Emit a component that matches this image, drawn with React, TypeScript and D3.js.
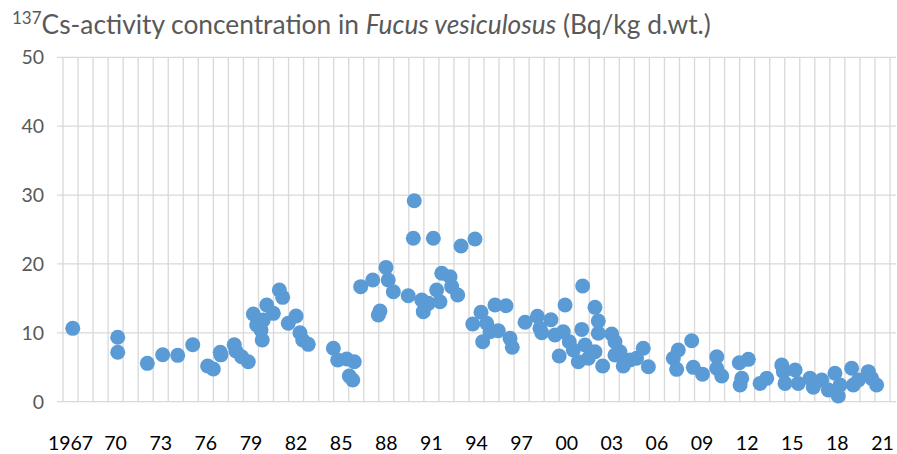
import * as d3 from "d3";

// y axis
const yTicks = [0, 10, 20, 30, 40, 50];

// x axis: one band per year, labels every third year
const labelYears = [1967, 1970, 1973, 1976, 1979, 1982, 1985, 1988, 1991, 1994, 1997, 2000, 2003, 2006, 2009, 2012, 2015, 2018, 2021];
const labelText = ["1967", "70", "73", "76", "79", "82", "85", "88", "91", "94", "97", "00", "03", "06", "09", "12", "15", "18", "21"];

// sampling time (decimal year) and 137Cs activity (Bq/kg d.wt.)
const sampleTime = [
  1967.65, 1970.64, 1970.64, 1972.61, 1973.63, 1974.63, 1975.63, 1976.62, 1977.0, 1977.46,
  1977.5, 1978.39, 1978.5, 1978.88, 1979.32, 1979.66, 1979.88, 1980.17, 1980.25, 1980.32,
  1980.55, 1980.99, 1981.39, 1981.61, 1981.98, 1982.5, 1982.76, 1982.94, 1983.31, 1984.98,
  1985.27, 1985.87, 1986.37, 1986.04, 1986.27, 1986.8, 1987.6, 1987.97, 1988.08, 1988.48,
  1988.63, 1988.97, 1989.96, 1990.36, 1990.3, 1990.86, 1990.96, 1991.3, 1991.63, 1991.85,
  1992.07, 1992.19, 1992.74, 1992.85, 1993.25, 1993.47, 1994.4, 1994.25, 1994.8, 1995.18,
  1994.91, 1995.73, 1995.95, 1995.4, 1996.46, 1996.73, 1996.88, 1997.73, 1998.55, 1998.72,
  1998.84, 1999.45, 1999.72, 2000.0, 2000.39, 2000.27, 2000.67, 2000.94, 2001.27, 2001.5,
  2001.56, 2001.72, 2001.94, 2002.38, 2002.38, 2002.6, 2002.6, 2002.89, 2003.49, 2003.71,
  2003.71, 2004.04, 2004.26, 2004.71, 2005.15, 2005.59, 2005.93, 2007.59, 2007.92, 2007.81,
  2008.81, 2008.92, 2009.53, 2010.48, 2010.48, 2010.81, 2011.98, 2012.58, 2012.03, 2012.14,
  2013.36, 2013.8, 2014.8, 2014.91, 2015.02, 2015.69, 2015.9, 2016.68, 2016.9, 2017.46,
  2017.9, 2018.34, 2018.56, 2018.68, 2019.45, 2019.56, 2019.9, 2020.56, 2020.78, 2021.11,
];
const activity = [
  10.65, 9.35, 7.17, 5.57, 6.82, 6.73, 8.27, 5.18, 4.75, 7.17,
  6.8, 8.27, 7.36, 6.53, 5.81, 12.73, 11.13, 10.4, 8.96, 11.86,
  14.04, 12.83, 16.21, 15.15, 11.38, 12.44, 10.02, 8.96, 8.33, 7.75,
  6.05, 6.2, 5.8, 3.73, 3.15, 16.7, 17.67, 12.58, 13.17, 19.5,
  17.67, 15.97, 15.39, 29.18, 23.72, 14.76, 13.07, 14.28, 23.72, 16.21,
  14.52, 18.64, 18.15, 16.7, 15.49, 22.6, 23.62, 11.28, 12.98, 11.38,
  8.71, 14.04, 10.3, 10.16, 13.94, 9.2, 7.9, 11.53, 12.4, 10.65,
  10.02, 11.9, 9.68, 6.63, 14.04, 10.16, 8.71, 7.5, 5.81, 10.5,
  16.8, 8.23, 6.3, 7.26, 13.7, 11.71, 9.93, 5.18, 9.83, 8.71,
  6.78, 7.26, 5.18, 6.05, 6.3, 7.75, 5.08, 6.3, 7.5, 4.7,
  8.85, 4.99, 4.0, 6.53, 4.85, 3.73, 5.66, 6.15, 2.42, 3.39,
  2.66, 3.39, 5.33, 4.36, 2.66, 4.6, 2.66, 3.39, 2.09, 3.15,
  1.7, 4.12, 0.83, 2.42, 4.85, 2.42, 3.15, 4.36, 3.39, 2.42,
];

const W = 897;
const H = 454;
const left = 63;
const right = 890;
const top = 57.3;
const bottom = 401.7;
const grey = "#595959";
const gridColor = "#d9d9d9";
const font = "Lato, 'Open Sans', sans-serif";

export default function App() {
  const x = d3.scaleLinear().domain([1967, 2022]).range([left, right]);
  const y = d3.scaleLinear().domain([0, 50]).range([bottom, top]);
  const gridYears = d3.range(1967, 2023);

  return (
    <svg
      width={W}
      height={H}
      style={{ position: "absolute", left: 0, top: 0, background: "#fff" }}
      fontFamily={font}
    >
      <text x={12} y={34} fill={grey} fontSize={26.3}>
        <tspan fontSize={17} dy={-10}>137</tspan>
        <tspan dy={10}>Cs-activity concentration in </tspan>
        <tspan fontStyle="italic">Fucus vesiculosus</tspan>
        <tspan> (Bq/kg d.wt.)</tspan>
      </text>

      {gridYears.map((yr) => (
        <line key={"v" + yr} x1={x(yr)} x2={x(yr)} y1={top} y2={bottom} stroke={gridColor} strokeWidth={1.33} />
      ))}
      {yTicks.map((t) => (
        <g key={"h" + t}>
          <line x1={left - 6} x2={W - 1} y1={y(t)} y2={y(t)} stroke={gridColor} strokeWidth={1.33} />
          <text x={44} y={y(t)} dy="0.35em" textAnchor="end" fill={grey} fontSize={19.5}>
            {t}
          </text>
        </g>
      ))}

      {labelYears.map((yr, i) => (
        <text key={"l" + yr} x={x(yr + 0.5)} y={450} textAnchor="middle" fill="#000" fontSize={19.5}>
          {labelText[i]}
        </text>
      ))}

      <g fill="#5b9bd5">
        {sampleTime.map((t, i) => (
          <circle key={i} cx={x(t)} cy={y(activity[i])} r={7.5} />
        ))}
      </g>
    </svg>
  );
}
